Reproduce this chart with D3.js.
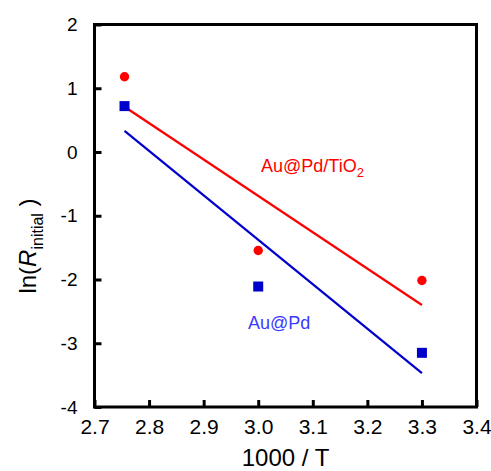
<!DOCTYPE html>
<html><head><meta charset="utf-8">
<script src="https://cdn.jsdelivr.net/npm/d3@7/dist/d3.min.js"></script>
<style>body{margin:0;background:#fff}svg{display:block}text{font-family:"Liberation Sans",Arial,sans-serif}</style>
</head><body><svg id="c" width="491" height="471"></svg>
<script>
const xTicks = [2.7, 2.8, 2.9, 3.0, 3.1, 3.2, 3.3, 3.4];
const yTicks = [2, 1, 0, -1, -2, -3, -4];
// Au@Pd/TiO2 (red)
const redX = [2.755, 3.0, 3.3];
const redY = [1.18, -1.545, -2.015];
const redFitX = [2.755, 3.3];
const redFitY = [0.71, -2.40];
// Au@Pd (blue)
const blueX = [2.755, 3.0, 3.3];
const blueY = [0.72, -2.11, -3.15];
const blueFitX = [2.755, 3.3];
const blueFitY = [0.33, -3.47];

const svg = d3.select("#c");
const L = 94.5, R = 476.5, T = 24.5, B = 407;
const x = d3.scaleLinear().domain([2.7, 3.4]).range([L, R]);
const y = d3.scaleLinear().domain([-4, 2]).range([B, T]);

const red = "#ff0000", blue = "#0000cc";

// axes
const xAxis = svg.append("g").attr("transform", `translate(0,${B})`)
  .call(d3.axisBottom(x).tickValues(xTicks).tickFormat(d => d.toFixed(1)).tickSizeInner(-7).tickSizeOuter(0).tickPadding(12));
xAxis.select(".domain").remove();
xAxis.selectAll("line").attr("stroke", "#000").attr("stroke-width", 3);
xAxis.selectAll("text").attr("font-size", 21).attr("fill", "#000").attr("dy", "0.71em");

const yAxis = svg.append("g").attr("transform", `translate(${L},0)`)
  .call(d3.axisLeft(y).tickValues(yTicks).tickFormat(d => String(d)).tickSizeInner(-7).tickSizeOuter(0).tickPadding(17));
yAxis.select(".domain").remove();
yAxis.selectAll("line").attr("stroke", "#000").attr("stroke-width", 3);
yAxis.selectAll("text").attr("font-size", 19).attr("fill", "#000");

svg.append("rect").attr("x", L).attr("y", T).attr("width", R - L).attr("height", B - T)
  .attr("fill", "none").attr("stroke", "#000").attr("stroke-width", 3);

// fit lines
const line = d3.line().x(d => x(d[0])).y(d => y(d[1]));
svg.append("path").datum(d3.zip(redFitX, redFitY)).attr("d", line)
  .attr("stroke", red).attr("stroke-width", 2.2).attr("fill", "none");
svg.append("path").datum(d3.zip(blueFitX, blueFitY)).attr("d", line)
  .attr("stroke", blue).attr("stroke-width", 2.2).attr("fill", "none");

// points
svg.selectAll(".rp").data(d3.zip(redX, redY)).join("circle")
  .attr("cx", d => x(d[0])).attr("cy", d => y(d[1])).attr("r", 4.7).attr("fill", red);
const s = 10;
svg.selectAll(".bp").data(d3.zip(blueX, blueY)).join("rect")
  .attr("x", d => x(d[0]) - s / 2).attr("y", d => y(d[1]) - s / 2)
  .attr("width", s).attr("height", s).attr("fill", blue);

// labels
const t1 = svg.append("text").attr("x", 261).attr("y", 171.5).attr("font-size", 18).attr("fill", red);
t1.append("tspan").text("Au@Pd/TiO");
t1.append("tspan").attr("font-size", 13).attr("dy", 5).text("2");

svg.append("text").attr("x", 248).attr("y", 328.5).attr("font-size", 18).attr("fill", "#3a3aff").text("Au@Pd");

// axis titles
svg.append("text").attr("x", (L + R) / 2).attr("y", 466).attr("text-anchor", "middle")
  .attr("font-size", 24).attr("fill", "#000").text("1000 / T");

const yt = svg.append("text").attr("transform", "translate(36,246) rotate(-90)")
  .attr("text-anchor", "middle").attr("font-size", 24).attr("fill", "#000");
yt.append("tspan").text("ln(");
yt.append("tspan").attr("font-style", "italic").text("R");
yt.append("tspan").attr("font-size", 16).attr("dy", 7).text("initial");
yt.append("tspan").attr("dy", -7).text(" )");
</script></body></html>
